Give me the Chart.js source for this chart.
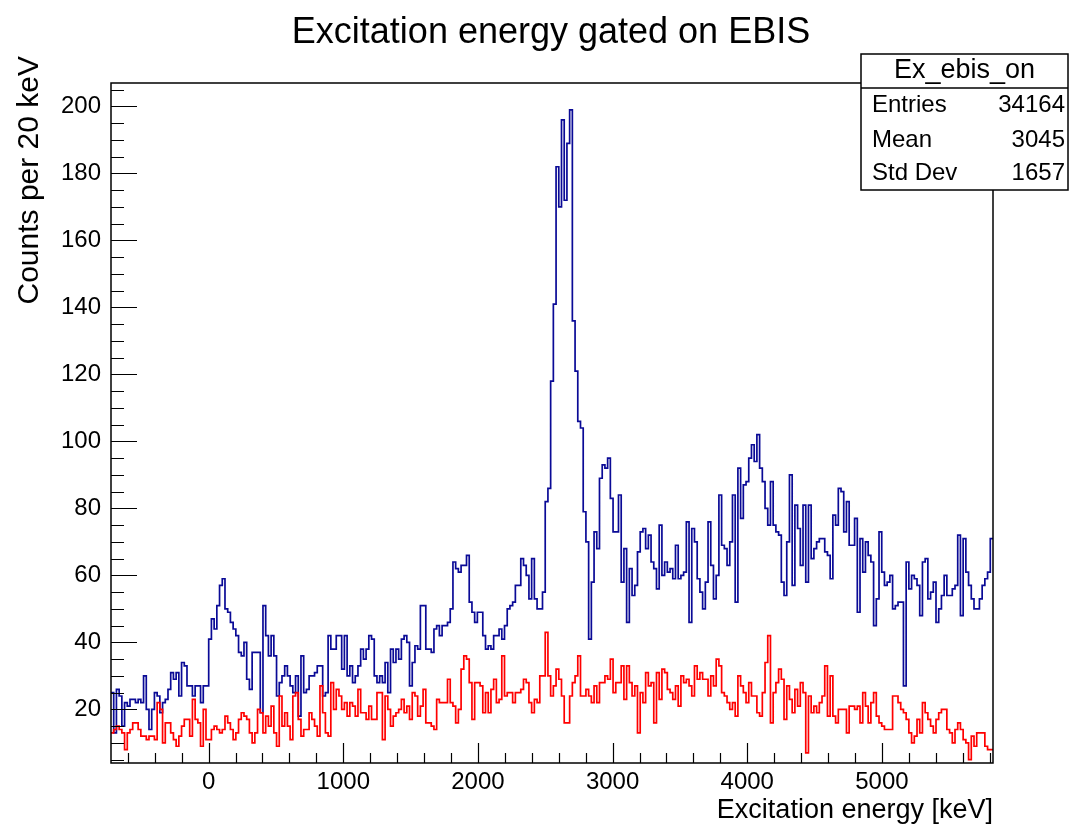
<!DOCTYPE html>
<html>
<head>
<meta charset="utf-8">
<script src="https://cdn.jsdelivr.net/npm/chart.js@4.4.1/dist/chart.umd.min.js"></script>
<style>
  html, body { margin: 0; padding: 0; background: #fff; }
</style>
</head>
<body>
<canvas id="myChart" width="1070" height="825"></canvas>
<script>
var histTitle = "Excitation energy gated on EBIS";
var xTitle = "Excitation energy [keV]";
var yTitle = "Counts per 20 keV";
var statsName = "Ex_ebis_on";
var statLabels = ["Entries", "Mean", "Std Dev"];
var statValues = ["34164", "3045", "1657"];

// axis range (keV) and tick labels
var xMin = -725, xMax = 5825;
var yMin = 4, yMax = 207;
var xTicks = [0, 1000, 2000, 3000, 4000, 5000];
var yTicks = [20, 40, 60, 80, 100, 120, 140, 160, 180, 200];

// counts per bin, EBIS on (blue)
var ebisOn = [
  25,13,26,24,15,22,21,23,23,22,
  23,22,30,20,14,20,25,24,19,22,
  23,26,31,29,31,24,34,33,27,27,
  24,27,27,22,27,27,41,47,44,51,
  57,59,50,49,46,44,42,37,36,40,
  29,26,37,37,37,19,51,42,36,42,
  36,24,28,30,33,30,27,25,30,18,
  36,25,26,30,30,31,33,33,24,25,
  42,38,38,42,42,32,42,30,33,28,
  30,33,38,35,38,42,41,30,28,30,
  28,34,25,38,34,38,35,41,42,40,
  27,34,39,38,51,51,38,38,37,44,
  45,42,45,45,46,50,64,62,61,63,
  63,66,52,49,46,49,49,42,38,39,
  38,42,42,44,41,45,50,51,52,57,
  57,65,63,60,53,65,53,50,50,55,
  82,86,118,141,182,170,196,172,189,199,
  136,121,106,104,79,70,41,58,73,68,
  89,93,92,95,83,73,73,84,58,68,
  46,62,54,57,67,73,74,68,72,64,
  62,56,75,60,64,61,62,59,69,59,
  60,61,76,46,74,70,59,55,50,58,
  76,63,53,60,84,69,68,63,70,84,
  52,92,77,87,88,95,99,94,102,92,
  88,80,75,88,75,73,72,58,54,70,
  90,57,81,74,63,81,58,81,65,68,
  70,71,71,67,66,59,78,75,86,85,
  73,82,69,69,77,49,71,61,70,66,
  64,45,53,73,61,57,58,60,50,51,
  52,52,27,64,56,60,59,57,48,64,
  65,53,55,58,46,50,54,60,54,54,
  56,57,72,48,71,61,57,53,50,50,
  53,57,59,61,71
];

// counts per bin, EBIS off (red)
var ebisOff = [
  13,14,15,14,13,8,13,14,16,16,
  14,12,12,11,12,12,11,22,20,10,
  16,16,13,11,9,12,15,17,17,12,
  23,17,16,9,20,11,11,14,15,14,
  13,14,18,16,14,11,13,17,19,18,
  17,13,10,13,20,19,13,18,15,21,
  13,9,24,15,19,15,11,24,25,17,
  12,14,14,19,17,15,12,27,19,13,
  12,28,20,26,24,20,22,18,22,21,
  18,26,19,19,17,21,17,17,25,25,
  11,24,20,15,18,19,20,23,19,21,
  17,25,24,18,21,26,16,16,15,14,
  23,22,22,22,29,22,21,16,20,32,
  36,35,28,17,28,28,27,19,25,19,
  26,29,22,23,36,24,25,25,22,25,
  25,26,29,28,22,19,23,22,30,30,
  43,30,24,27,32,29,24,16,16,24,
  28,30,36,24,24,26,24,22,27,22,
  28,28,30,29,35,25,28,28,33,23,
  33,28,24,27,13,25,22,31,27,28,
  16,31,23,32,31,26,25,23,27,21,
  30,28,29,27,24,33,29,31,29,29,
  24,30,27,35,33,25,24,22,20,22,
  18,30,27,25,22,28,24,24,19,18,
  25,34,42,16,25,28,32,29,17,27,
  23,19,26,21,28,25,7,24,19,21,
  19,22,24,33,18,30,18,16,20,20,
  20,13,21,21,20,21,16,25,21,16,
  22,25,18,16,15,14,14,14,24,24,
  22,20,19,17,13,10,12,17,13,22,
  19,17,15,13,17,19,20,20,14,13,
  10,14,16,14,11,10,5,12,9,13,
  13,13,9,8,8
];

var fontFamily = '"Liberation Sans", Arial, Helvetica, sans-serif';
Chart.defaults.font.family = fontFamily;
Chart.defaults.color = "#000";

var binWidth = (xMax - xMin) / ebisOn.length;

function toSteps(values) {
  var pts = [];
  for (var i = 0; i < values.length; i++) {
    pts.push({ x: xMin + i * binWidth, y: values[i] });
  }
  pts.push({ x: xMax, y: values[values.length - 1] });
  return pts;
}

// frame, inner ticks, titles and stats box in ROOT style
var rootStyle = {
  id: "rootStyle",
  afterDraw: function (chart) {
    var c = chart.ctx;
    var a = chart.chartArea;
    var xs = chart.scales.x;
    var ys = chart.scales.y;
    c.save();
    c.strokeStyle = "#000";
    c.lineWidth = 1.5;
    c.strokeRect(a.left, a.top, a.right - a.left, a.bottom - a.top);

    c.beginPath();
    for (var v = Math.ceil(xMin / 200) * 200; v <= xMax; v += 200) {
      var px = Math.round(xs.getPixelForValue(v)) + 0.5;
      var len = v % 1000 === 0 ? 20 : 10;
      c.moveTo(px, a.bottom);
      c.lineTo(px, a.bottom - len);
    }
    for (var w = Math.ceil(yMin / 5) * 5; w <= yMax; w += 5) {
      var py = Math.round(ys.getPixelForValue(w)) + 0.5;
      var ln = w % 20 === 0 ? 26 : 13;
      c.moveTo(a.left, py);
      c.lineTo(a.left + ln, py);
    }
    c.lineWidth = 1.2;
    c.stroke();

    // titles
    c.fillStyle = "#000";
    c.font = "36px " + fontFamily;
    c.textAlign = "center";
    c.textBaseline = "alphabetic";
    c.fillText(histTitle, 551, 43);

    c.font = "27px " + fontFamily;
    c.textAlign = "right";
    c.fillText(xTitle, a.right, 818);

    c.save();
    c.font = "30px " + fontFamily;
    c.translate(38, 56);
    c.rotate(-Math.PI / 2);
    c.textAlign = "right";
    c.fillText(yTitle, 0, 0);
    c.restore();

    // stats box
    var bx = 861, by = 54, bw = 207, bh = 136;
    c.fillStyle = "#fff";
    c.fillRect(bx, by, bw, bh);
    c.lineWidth = 1.5;
    c.strokeRect(bx, by, bw, bh);
    c.beginPath();
    c.moveTo(bx, 88);
    c.lineTo(bx + bw, 88);
    c.stroke();
    c.fillStyle = "#000";
    c.textBaseline = "middle";
    c.font = "27px " + fontFamily;
    c.textAlign = "center";
    c.fillText(statsName, bx + bw / 2, 71);
    c.font = "24px " + fontFamily;
    var rowY = [105, 140, 173];
    for (var i = 0; i < statLabels.length; i++) {
      c.textAlign = "left";
      c.fillText(statLabels[i], bx + 11, rowY[i]);
      c.textAlign = "right";
      c.fillText(statValues[i], bx + bw - 3, rowY[i]);
    }
    c.restore();
  }
};

var chart = new Chart(document.getElementById("myChart").getContext("2d"), {
  type: "line",
  data: {
    datasets: [
      {
        label: "EBIS off",
        data: toSteps(ebisOff),
        borderColor: "rgb(255, 0, 0)",
        borderWidth: 1.7,
        pointRadius: 0,
        stepped: "before",
        fill: false
      },
      {
        label: statsName,
        data: toSteps(ebisOn),
        borderColor: "rgb(10, 10, 150)",
        borderWidth: 1.7,
        pointRadius: 0,
        stepped: "before",
        fill: false
      }
    ]
  },
  options: {
    responsive: false,
    animation: false,
    layout: { padding: { left: 0, right: 77, top: 83, bottom: 0 } },
    plugins: {
      legend: { display: false },
      tooltip: { enabled: false },
      title: { display: false }
    },
    scales: {
      x: {
        type: "linear",
        min: xMin,
        max: xMax,
        grid: { display: false, drawTicks: false },
        border: { display: false },
        afterBuildTicks: function (scale) {
          scale.ticks = xTicks.map(function (v) { return { value: v }; });
        },
        afterFit: function (scale) { scale.height = 62; },
        ticks: {
          autoSkip: false,
          maxRotation: 0,
          padding: 5,
          font: { size: 24 },
          callback: function (v) { return String(v); }
        }
      },
      y: {
        type: "linear",
        min: yMin,
        max: yMax,
        grid: { display: false, drawTicks: false },
        border: { display: false },
        afterBuildTicks: function (scale) {
          scale.ticks = yTicks.map(function (v) { return { value: v }; });
        },
        afterFit: function (scale) { scale.width = 111; },
        ticks: {
          autoSkip: false,
          padding: 10,
          font: { size: 24 },
          callback: function (v) { return String(v); }
        }
      }
    }
  },
  plugins: [rootStyle]
});
</script>
</body>
</html>
